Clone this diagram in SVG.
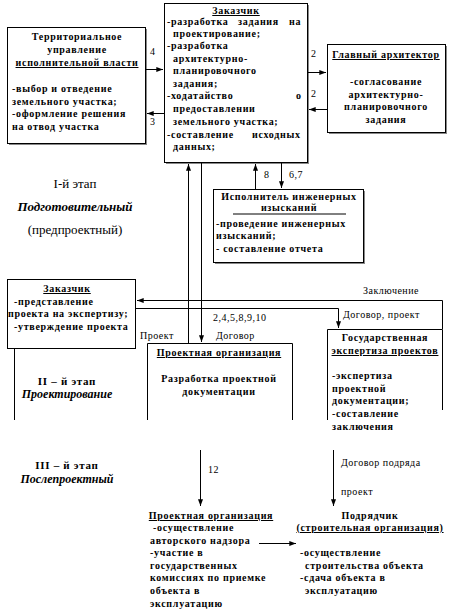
<svg xmlns="http://www.w3.org/2000/svg" width="452" height="610" viewBox="0 0 452 610" font-family="Liberation Serif, serif">
<defs>
<marker id="ah" viewBox="0 0 8 6" refX="8" refY="3" markerWidth="7" markerHeight="5" markerUnits="userSpaceOnUse" orient="auto">
<path d="M0,0 L8,3 L0,6 z" fill="#000"/>
</marker>
</defs>
<style>
text{fill:#000;font-family:'Liberation Serif',serif}
.b{font-size:10px;font-weight:bold;letter-spacing:0.7px}
.n{font-size:10px;letter-spacing:0.5px}
.c{text-anchor:middle}
.u{text-decoration:underline}
.st{font-size:13px}
.bi{font-size:13px;font-weight:bold;font-style:italic}
.box{fill:#fff;stroke:#000;stroke-width:1}
.sh{fill:#888}
.ln{fill:none;stroke:#000;stroke-width:1}
.cn{fill:none;stroke:#000;stroke-width:1}
</style>
<rect width="452" height="610" fill="#fff"/>

<g id="territorial">
<rect class="sh" x="9" y="29" width="138" height="116"/>
<rect class="box" x="7.5" y="27.5" width="138" height="116"/>
<text class="b c" x="77" y="40">Территориальное</text>
<text class="b c" x="77" y="53">управление</text>
<text class="b c u" x="77" y="66">исполнительной власти</text>
<text class="b" x="12" y="92">-выбор и отведение</text>
<text class="b" x="12" y="105">земельного участка;</text>
<text class="b" x="12" y="117">-оформление решения</text>
<text class="b" x="12" y="130">на отвод участка</text>
</g>

<g id="customer1">
<rect class="sh" x="166" y="5" width="143" height="159"/>
<rect class="box" x="164.5" y="3.5" width="143" height="159"/>
<text class="b c u" x="236" y="14">Заказчик</text>
<text class="b" x="167" y="25">-разработка</text>
<text class="b" x="238" y="25">задания</text>
<text class="b" x="289" y="25">на</text>
<text class="b" x="173" y="37">проектирование;</text>
<text class="b" x="167" y="49">-разработка</text>
<text class="b" x="173" y="62">архитектурно-</text>
<text class="b" x="173" y="74">планировочного</text>
<text class="b" x="173" y="87">задания;</text>
<text class="b" x="167" y="99">-ходатайство</text>
<text class="b" x="296" y="99">о</text>
<text class="b" x="173" y="112">предоставлении</text>
<text class="b" x="173" y="125">земельного участка;</text>
<text class="b" x="167" y="138">-составление</text>
<text class="b" x="252" y="138">исходных</text>
<text class="b" x="173" y="150">данных;</text>
</g>

<g id="architect">
<rect class="sh" x="329" y="46" width="118" height="88"/>
<rect class="box" x="327.5" y="44.5" width="118" height="88"/>
<text class="b c u" x="386" y="58">Главный архитектор</text>
<text class="b c" x="386" y="85">-согласование</text>
<text class="b c" x="386" y="98">архитектурно-</text>
<text class="b c" x="386" y="110">планировочного</text>
<text class="b c" x="386" y="123">задания</text>
</g>

<g id="surveyor">
<rect class="sh" x="215" y="191" width="150" height="73"/>
<rect class="box" x="213.5" y="189.5" width="150" height="73"/>
<text class="b c" x="289" y="200">Исполнитель инженерных</text>
<text class="b c" x="289" y="211">изысканий</text>
<line class="ln" x1="233" y1="214" x2="346" y2="214"/>
<text class="b" x="216" y="227">-проведение инженерных</text>
<text class="b" x="216" y="239">изысканий;</text>
<text class="b" x="216" y="252">- составление отчета</text>
</g>

<g id="stage1">
<text class="st c" x="75" y="188">I-й этап</text>
<text class="bi c" x="75" y="211">Подготовительный</text>
<text class="st c" x="75" y="234">(предпроектный)</text>
</g>

<g id="customer2">
<rect class="box" x="7.5" y="279.5" width="128" height="69"/>
<line class="ln" x1="14.5" y1="348" x2="14.5" y2="420"/>
<text class="b c u" x="67" y="292">Заказчик</text>
<text class="b" x="14" y="305">-представление</text>
<text class="b" x="8" y="317">проекта на экспертизу;</text>
<text class="b" x="14" y="330">-утверждение проекта</text>
</g>

<g id="stage2">
<text class="b c" x="67" y="385" style="font-size:11px">II – й этап</text>
<text class="bi c" x="67" y="398" style="font-size:12px">Проектирование</text>
</g>

<g id="design-org">
<path class="ln" d="M147.5,420 V343.5 H292.5 V420"/>
<text class="b c u" x="219" y="356">Проектная организация</text>
<text class="b c" x="219" y="382">Разработка проектной</text>
<text class="b c" x="219" y="395">документации</text>
</g>

<g id="expertise">
<path class="ln" d="M327.5,420 V329.5 H442.5 V410"/>
<text class="b c" x="385" y="341">Государственная</text>
<text class="b c u" x="385" y="354">экспертиза проектов</text>
<text class="b" x="332" y="379">-экспертиза</text>
<text class="b" x="332" y="392">проектной</text>
<text class="b" x="332" y="404">документации;</text>
<text class="b" x="332" y="417">-составление</text>
<text class="b" x="332" y="430">заключения</text>
</g>

<g id="stage3">
<text class="b c" x="67" y="469" style="font-size:11px">III – й этап</text>
<text class="bi c" x="67" y="483" style="font-size:12px">Послепроектный</text>
</g>

<g id="design-org2">
<text class="b c u" x="211" y="519">Проектная организация</text>
<text class="b" x="153" y="531">-осуществление</text>
<text class="b" x="150" y="544">авторского надзора</text>
<text class="b" x="150" y="556">-участие в</text>
<text class="b" x="150" y="569">государственных</text>
<text class="b" x="150" y="581">комиссиях по приемке</text>
<text class="b" x="150" y="594">объекта в</text>
<text class="b" x="150" y="607">эксплуатацию</text>
</g>

<g id="contractor">
<text class="b c" x="370" y="519">Подрядчик</text>
<text class="b c u" x="370" y="531">(строительная организация)</text>
<text class="b" x="300" y="556">-осуществление</text>
<text class="b" x="305" y="569">строительства объекта</text>
<text class="b" x="300" y="581">-сдача объекта в</text>
<text class="b" x="305" y="594">эксплуатацию</text>
</g>

<g id="connectors">
<line class="cn" x1="146" y1="69.5" x2="163" y2="69.5" marker-end="url(#ah)"/>
<line class="cn" x1="164" y1="113.5" x2="147" y2="113.5" marker-end="url(#ah)"/>
<line class="cn" x1="308" y1="72.5" x2="326" y2="72.5" marker-end="url(#ah)"/>
<line class="cn" x1="327" y1="109.5" x2="309" y2="109.5" marker-end="url(#ah)"/>
<line class="cn" x1="188.5" y1="343" x2="188.5" y2="164" marker-end="url(#ah)"/>
<line class="cn" x1="201.5" y1="163" x2="201.5" y2="342" marker-end="url(#ah)"/>
<line class="cn" x1="255.5" y1="189" x2="255.5" y2="164" marker-end="url(#ah)"/>
<line class="cn" x1="281.5" y1="163" x2="281.5" y2="188" marker-end="url(#ah)"/>
<path class="cn" d="M442.5,329 V300.5 H137" marker-end="url(#ah)"/>
<path class="cn" d="M136,308.5 H338.5 V328" marker-end="url(#ah)"/>
<line class="cn" x1="200.5" y1="450" x2="200.5" y2="506" marker-end="url(#ah)"/>
<line class="cn" x1="333.5" y1="450" x2="333.5" y2="506" marker-end="url(#ah)"/>
<line class="cn" x1="259" y1="543.5" x2="296" y2="543.5" marker-end="url(#ah)"/>
<text class="n" x="150" y="55">4</text>
<text class="n" x="150" y="125">3</text>
<text class="n" x="311" y="57">2</text>
<text class="n" x="311" y="97">2</text>
<text class="n" x="264" y="178">8</text>
<text class="n" x="289" y="178">6,7</text>
<text class="n" x="363" y="294">Заключение</text>
<text class="n" x="343" y="318">Договор, проект</text>
<text class="n" x="213" y="321">2,4,5,8,9,10</text>
<text class="n" x="140" y="339">Проект</text>
<text class="n" x="216" y="339">Договор</text>
<text class="n" x="208" y="473">12</text>
<text class="n" x="341" y="466">Договор подряда</text>
<text class="n" x="341" y="495">проект</text>
</g>
</svg>
